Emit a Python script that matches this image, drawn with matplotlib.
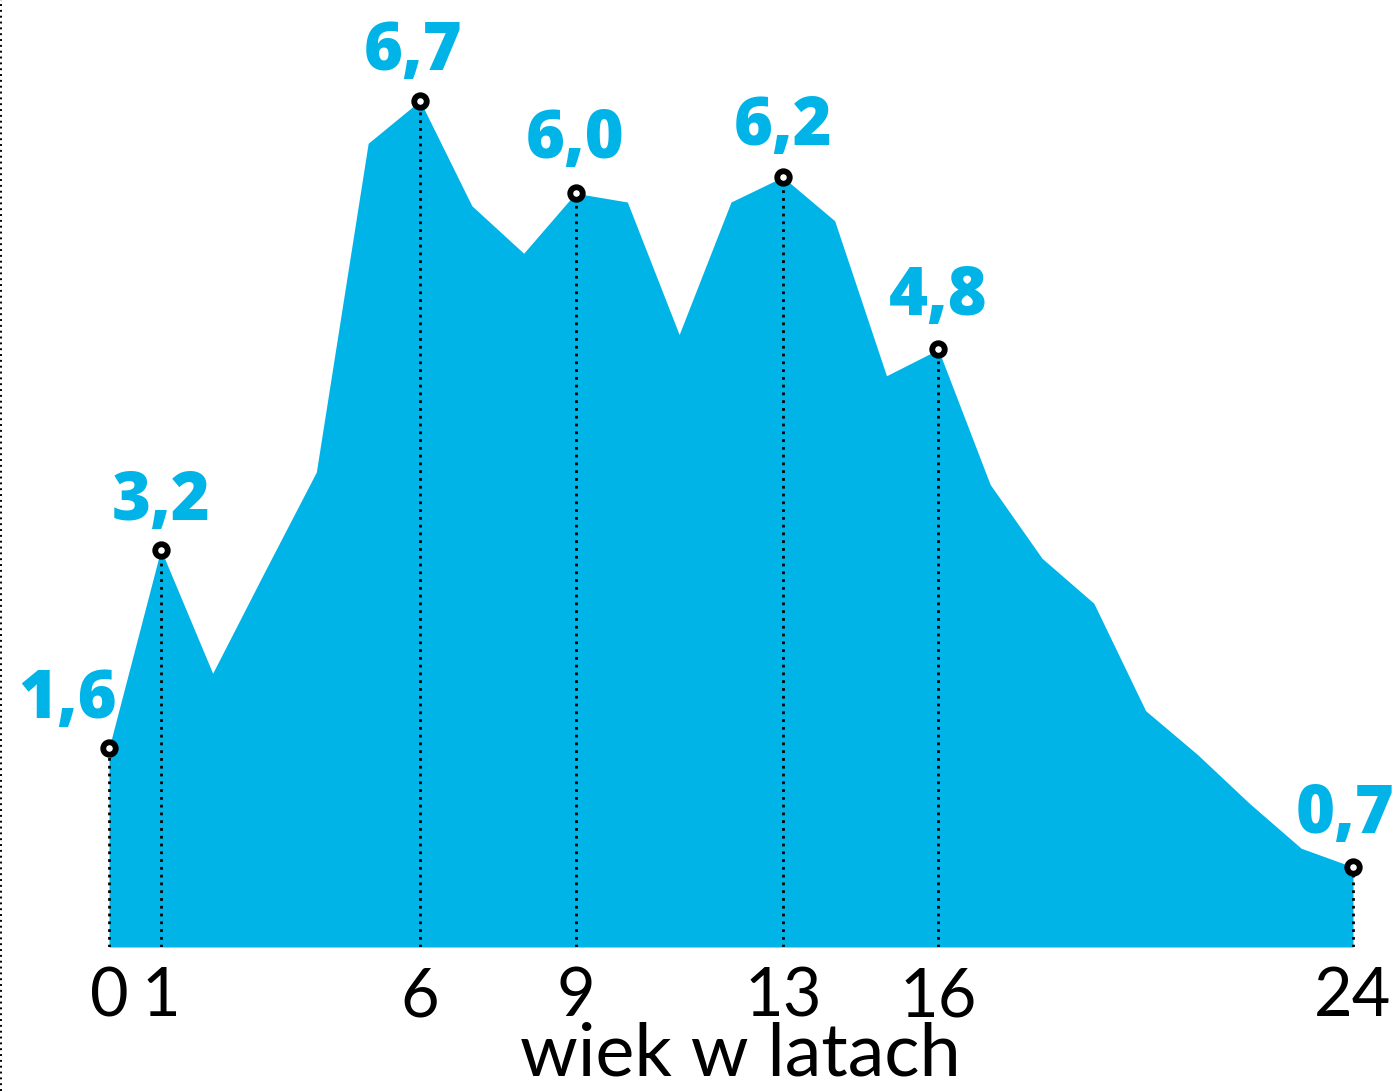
import numpy as np
import matplotlib.pyplot as plt

# age in years and value per age
ages = list(range(25))
values = [1.59, 3.18, 2.19, 3.0, 3.8, 6.43, 6.77, 5.93, 5.55, 6.03, 5.96, 4.9, 5.96,
          6.16, 5.81, 4.57, 4.78, 3.7, 3.11, 2.75, 1.89, 1.54, 1.15, 0.79, 0.64]

marked_ages = [0, 1, 6, 9, 13, 16, 24]
marked_labels = ['1,6', '3,2', '6,7', '6,0', '6,2', '4,8', '0,7']
# label offsets in pixels (dx, dy) from the marker
label_offsets = [(-41, 48), (0, 47), (-7, 48), (0, 53), (0, 49), (0, 52), (-8, 52)]

tick_ages = [0, 1, 6, 9, 13, 16, 24]
xlabel = 'wiek w latach'

blue = '#00B4E8'
W, H = 1399, 1091
dpi = 100
px_per_unit_x = (1353 - 109) / 24
px_per_unit_y = 125.0
base_px = 947  # baseline from top

fig = plt.figure(figsize=(W / dpi, H / dpi), dpi=dpi)
ax = fig.add_axes([0, (H - base_px) / H, 1, base_px / H])
ax.set_xlim(-109 / px_per_unit_x, 24 + (W - 1353) / px_per_unit_x)
ax.set_ylim(0, base_px / px_per_unit_y)

ax.fill_between(ages, values, 0, color=blue, lw=0)

for a in marked_ages:
    v = values[a]
    ax.plot([a, a], [0, v], color='black', lw=2, ls=(0, (1, 1.8)), zorder=3)
    ax.plot(a, v, 'o', ms=9, mfc='white', mec='black', mew=4.2, zorder=4)

for a, lab, (dx, dy) in zip(marked_ages, marked_labels, label_offsets):
    ax.annotate(lab, (a, values[a]), xytext=(dx * 72 / dpi, dy * 72 / dpi),
                textcoords='offset points', ha='center', va='center',
                color=blue, fontsize=48, fontweight='heavy', family='Open Sans')

for s in ['top', 'right', 'bottom', 'left']:
    ax.spines[s].set_visible(False)
ax.set_yticks([])
ax.set_xticks(tick_ages)
ax.set_xticklabels([str(t) for t in tick_ages], fontsize=48, family='Lato')
ax.tick_params(axis='x', length=0, pad=14)

fig.text(740 / W, (H - 1075) / H, xlabel, ha='center', va='baseline',
         fontsize=53, family='Lato')

# dotted border on the left edge of the figure
fig.add_artist(plt.Line2D([0.0007, 0.0007], [0, 1], transform=fig.transFigure,
                          color='black', lw=1.4, ls=(0, (1, 2))))

fig.savefig('out.png', dpi=dpi)
